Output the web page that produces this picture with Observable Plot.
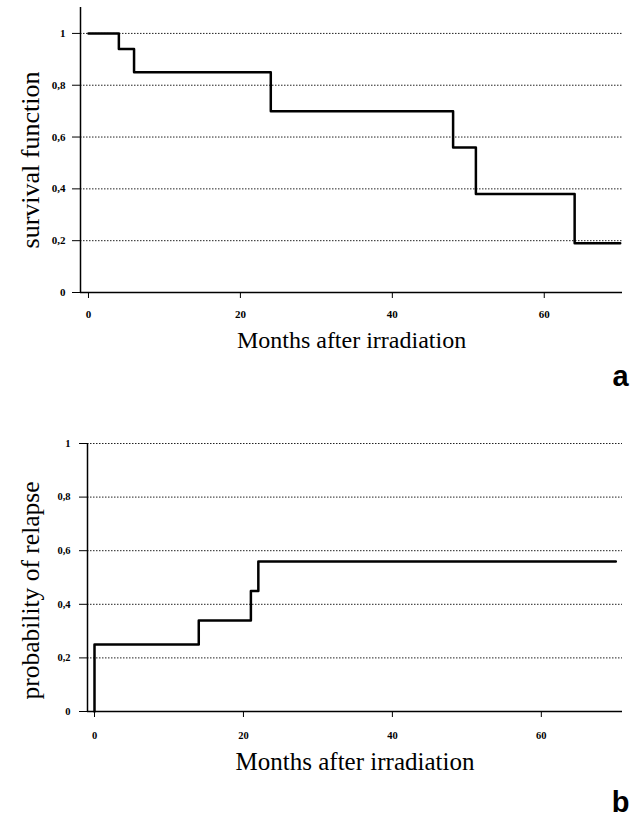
<!DOCTYPE html>
<html>
<head>
<meta charset="utf-8">
<script src="https://cdn.jsdelivr.net/npm/d3@7"></script>
<script src="https://cdn.jsdelivr.net/npm/@observablehq/plot@0.6"></script>
<style>
  body { margin: 0; background: #fff; }
  #chart { width: 632px; }
  #chart svg { display: block; }
</style>
</head>
<body>
<div id="chart"></div>
<script>
// ---- data ----
const survivalMonths = [0, 4, 6, 24, 48, 51, 64, 70];
const survivalValues = [1, 0.94, 0.85, 0.70, 0.56, 0.38, 0.19, 0.19];
const relapseMonths = [0, 0, 14, 21, 22, 70];
const relapseValues = [0, 0.25, 0.34, 0.45, 0.56, 0.56];
const xTicks = [0, 20, 40, 60];
const yTicks = [0, 0.2, 0.4, 0.6, 0.8, 1];
const yTickLabels = ["0", "0,2", "0,4", "0,6", "0,8", "1"];
const xLabel = "Months after irradiation";
const yLabelA = "survival function";
const yLabelB = "probability of relapse";
const letterA = "a";
const letterB = "b";

function panel(cfg) {
  const data = cfg.months.map((m, i) => ({month: m, value: cfg.values[i]}));
  return Plot.plot({
    width: 632,
    height: cfg.height,
    marginTop: cfg.marginTop,
    marginBottom: cfg.height - cfg.zeroY,
    marginLeft: cfg.marginLeft,
    marginRight: 10,
    style: {fontFamily: "Liberation Serif", background: "white", overflow: "visible", color: "black"},
    x: {domain: cfg.xDomain},
    y: {domain: cfg.yDomain},
    marks: [
      Plot.ruleY(yTicks.filter(d => d > 0), {stroke: "#222", strokeWidth: 1, strokeDasharray: "1.5,1.5"}),
      Plot.ruleY([0], {stroke: "black", strokeWidth: 1.5}),
      Plot.ruleX([cfg.xDomain[0]], {stroke: "black", strokeWidth: 1.5}),
      Plot.axisY({
        ticks: yTicks, tickSize: 8, tickPadding: cfg.yPad, label: null,
        tickFormat: d => yTickLabels[yTicks.indexOf(d)],
        fontSize: cfg.tickFont, fontWeight: "bold", fontFamily: "Liberation Serif"
      }),
      Plot.axisX({
        ticks: xTicks, tickSize: 6, tickPadding: cfg.xPad, label: null,
        fontSize: cfg.tickFont, fontWeight: "bold", fontFamily: "Liberation Serif"
      }),
      Plot.line(data, {x: "month", y: "value", curve: "step-after", stroke: "black", strokeWidth: 2.5}),
      Plot.text([xLabel], {text: d => d, frameAnchor: "bottom", textAnchor: "middle", dy: cfg.xLabelDy, fontSize: cfg.xLabelFont, fontFamily: "Liberation Serif"}),
      Plot.text([cfg.yLabel], {text: d => d, frameAnchor: "left", textAnchor: "middle", rotate: -90, dx: cfg.yLabelDx, dy: cfg.yLabelDy, fontSize: cfg.yLabelFont, fontFamily: "Liberation Serif"}),
      Plot.text([cfg.letter], {text: d => d, frameAnchor: "bottom-right", textAnchor: "middle", dx: -2, dy: cfg.letterDy, fontSize: 29, fontWeight: "bold", fontFamily: "Liberation Sans"})
    ]
  });
}

const chart = document.getElementById("chart");
chart.append(panel({
  months: survivalMonths, values: survivalValues,
  xDomain: [-1.05, 70.3], yDomain: [0, 1.1],
  height: 400, marginTop: 7, zeroY: 292, marginLeft: 80,
  yPad: 7, xPad: 12, tickFont: 11,
  xLabelDy: 55, xLabelFont: 24,
  yLabel: yLabelA, yLabelDx: -50, yLabelDy: 10, yLabelFont: 26,
  letter: letterA, letterDy: 93
}));
chart.append(panel({
  months: relapseMonths, values: relapseValues,
  xDomain: [-0.94, 70.9], yDomain: [0, 1],
  height: 419, marginTop: 43, zeroY: 311, marginLeft: 87,
  yPad: 9, xPad: 14, tickFont: 10.5,
  xLabelDy: 58, xLabelFont: 25,
  yLabel: yLabelB, yLabelDx: -57, yLabelDy: 13, yLabelFont: 25.5,
  letter: letterB, letterDy: 100
}));
</script>
</body>
</html>
